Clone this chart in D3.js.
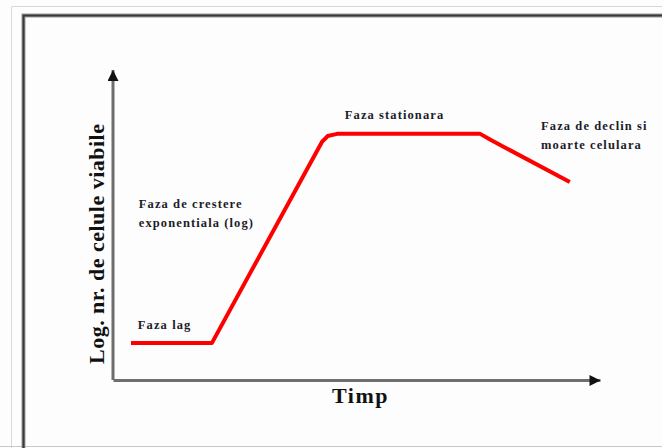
<!DOCTYPE html>
<html>
<head>
<meta charset="utf-8">
<script src="https://cdn.jsdelivr.net/npm/d3@7/dist/d3.min.js"></script>
<style>
  html, body { margin: 0; padding: 0; background: #ffffff; }
  svg { display: block; }
</style>
</head>
<body>
<svg id="chart" width="662" height="448"></svg>
<script>
// ---- data (arbitrary units 0..100) ----
const timeValues = [3.7, 20.3, 42.9, 44.1, 46.0, 75.4, 77.6, 93.8];
const logCounts  = [11.9, 11.9, 76.8, 78.7, 79.4, 79.4, 77.4, 63.9];

const phaseLabels = [
  { lines: ["Faza lag"], t: 5.1, v: 16.6 },
  { lines: ["Faza de crestere", "exponentiala (log)"], t: 5.3, v: 55.5 },
  { lines: ["Faza stationara"], t: 47.6, v: 84.2 },
  { lines: ["Faza de declin si", "moarte celulara"], t: 87.9, v: 80.6 }
];
const xTitle = "Timp";
const yTitle = "Log. nr. de celule  viabile";

// ---- drawing ----
const W = 662, H = 448;
const svg = d3.select("#chart");

// background & frames
svg.append("rect").attr("width", W).attr("height", H).attr("fill", "#fdfdfd");
svg.append("path")
  .attr("d", `M11.5,${H} V6.5 H${W}`)
  .attr("fill", "none").attr("stroke", "#d8d8d8").attr("stroke-width", 1);
svg.append("line").attr("x1", 0).attr("x2", W).attr("y1", 446.5).attr("y2", 446.5)
  .attr("stroke", "#c8c8c8").attr("stroke-width", 1);
svg.append("path")
  .attr("d", `M23.5,${H} V15.5 H${W}`)
  .attr("fill", "none").attr("stroke", "#9a9a9a").attr("stroke-width", 4);
svg.append("path")
  .attr("d", `M23.5,${H} V15.5 H${W}`)
  .attr("fill", "none").attr("stroke", "#3a3a3a").attr("stroke-width", 2);

const x = d3.scaleLinear().domain([0, 100]).range([113, 600]);
const y = d3.scaleLinear().domain([0, 100]).range([380, 70]);

// axes (no ticks) with arrowheads
const defs = svg.append("defs");
defs.append("marker").attr("id", "arrow")
  .attr("viewBox", "0 0 10 10").attr("refX", 10).attr("refY", 5)
  .attr("markerWidth", 12).attr("markerHeight", 11).attr("markerUnits", "userSpaceOnUse")
  .attr("orient", "auto")
  .append("path").attr("d", "M0,0 L10,5 L0,10 Z").attr("fill", "#111");

svg.append("g").attr("transform", `translate(0,${y(0)})`)
  .call(d3.axisBottom(x).tickValues([]).tickSizeOuter(0))
  .call(g => g.select(".domain").attr("stroke", "#6e6e6e").attr("stroke-width", 3)
    .attr("marker-end", "url(#arrow)"));
svg.append("g").attr("transform", `translate(${x(0)},0)`)
  .call(d3.axisLeft(y).tickValues([]).tickSizeOuter(0))
  .call(g => g.select(".domain").attr("stroke", "#6e6e6e").attr("stroke-width", 3)
    .attr("d", `M0,${y(0)} V${y(100)}`)
    .attr("marker-end", "url(#arrow)"));

// growth curve
const pts = timeValues.map((t, i) => [t, logCounts[i]]);
svg.append("path")
  .datum(pts)
  .attr("fill", "none")
  .attr("stroke", "#ff0000")
  .attr("stroke-width", 4)
  .attr("stroke-linejoin", "round")
  .attr("stroke-linecap", "butt")
  .attr("d", d3.line().x(d => x(d[0])).y(d => y(d[1])).curve(d3.curveLinear));

// phase labels
const lab = svg.append("g")
  .attr("font-family", "'Liberation Serif', 'DejaVu Serif', serif")
  .attr("font-weight", "bold").attr("font-size", 12.5).attr("fill", "#1c1c2a");
phaseLabels.forEach(p => {
  p.lines.forEach((ln, i) => {
    lab.append("text")
      .attr("x", x(p.t)).attr("y", y(p.v) + i * 19)
      .attr("letter-spacing", 1.1)
      .text(ln);
  });
});

// axis titles
svg.append("text")
  .attr("x", 332).attr("y", 403)
  .attr("font-family", "'Liberation Serif', serif").attr("font-weight", "bold")
  .attr("font-size", 22).attr("letter-spacing", 1.5).attr("fill", "#111")
  .text(xTitle);
svg.append("text")
  .attr("transform", "translate(104,364) rotate(-90)")
  .attr("font-family", "'Liberation Serif', serif").attr("font-weight", "bold")
  .attr("font-size", 22).attr("fill", "#111")
  .attr("textLength", 240).attr("lengthAdjust", "spacing")
  .text(yTitle);
</script>
</body>
</html>
